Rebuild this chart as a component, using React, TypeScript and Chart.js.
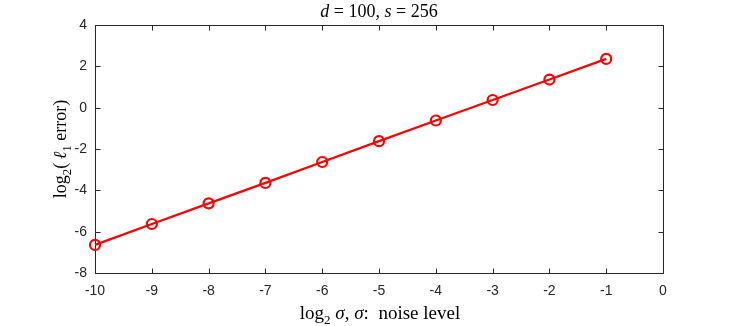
import React, { useEffect, useRef } from "react";
import { Chart, registerables } from "chart.js";
Chart.register(...registerables);

const xValues = [-10, -9, -8, -7, -6, -5, -4, -3, -2, -1];
const yValues = [-6.64, -5.63, -4.63, -3.64, -2.63, -1.62, -0.62, 0.37, 1.36, 2.36];
const xTickValues = [-10, -9, -8, -7, -6, -5, -4, -3, -2, -1, 0];
const yTickValues = [-8, -6, -4, -2, 0, 2, 4];

type Seg = { t: string; i?: boolean; sub?: boolean };
const titleSegs: Seg[] = [
  { t: "d", i: true }, { t: " = 100, " }, { t: "s", i: true }, { t: " = 256" },
];
const xLabelSegs: Seg[] = [
  { t: "log" }, { t: "2", sub: true }, { t: " " }, { t: "σ", i: true }, { t: ", " },
  { t: "σ", i: true }, { t: ":  noise level" },
];
const yLabelSegs: Seg[] = [
  { t: "log" }, { t: "2", sub: true }, { t: "(\u2009" }, { t: "ℓ", i: true }, { t: "1", sub: true },
  { t: " error)" },
];

const SERIF = "'Liberation Serif', 'DejaVu Serif', serif";
const AX = "#262626";

function drawRich(ctx: CanvasRenderingContext2D, segs: Seg[], cx: number, cy: number, size: number) {
  const fontOf = (s: Seg) =>
    `${s.i ? "italic " : ""}${s.sub ? Math.round(size * 0.7) : size}px ${SERIF}`;
  let total = 0;
  const widths = segs.map((s) => {
    ctx.font = fontOf(s);
    const w = ctx.measureText(s.t).width;
    total += w;
    return w;
  });
  let x = cx - total / 2;
  ctx.textBaseline = "alphabetic";
  ctx.textAlign = "left";
  segs.forEach((s, k) => {
    ctx.font = fontOf(s);
    ctx.fillText(s.t, x, cy + (s.sub ? size * 0.25 : 0));
    x += widths[k];
  });
}

const framePlugin = {
  id: "frame",
  beforeDatasetsDraw(chart: any) {
    const { ctx, chartArea: a, scales } = chart;
    ctx.save();
    ctx.strokeStyle = AX;
    ctx.lineWidth = 1;
    const L = Math.round(a.left) + 0.5, R = Math.round(a.right) + 0.5;
    const T = Math.round(a.top) + 0.5, B = Math.round(a.bottom) + 0.5;
    ctx.beginPath();
    ctx.rect(L, T, R - L, B - T);
    const tl = 5;
    xTickValues.forEach((v) => {
      const px = Math.round(scales.x.getPixelForValue(v)) + 0.5;
      ctx.moveTo(px, B); ctx.lineTo(px, B - tl);
      ctx.moveTo(px, T); ctx.lineTo(px, T + tl);
    });
    yTickValues.forEach((v) => {
      const py = Math.round(scales.y.getPixelForValue(v)) + 0.5;
      ctx.moveTo(L, py); ctx.lineTo(L + tl, py);
      ctx.moveTo(R, py); ctx.lineTo(R - tl, py);
    });
    ctx.stroke();
    ctx.restore();
  },
  afterDraw(chart: any) {
    const { ctx, chartArea: a } = chart;
    ctx.save();
    ctx.fillStyle = "#000";
    const cx = (a.left + a.right) / 2;
    drawRich(ctx, titleSegs, cx, 17, 18);
    drawRich(ctx, xLabelSegs, cx + 1, 319, 19);
    ctx.translate(66, (a.top + a.bottom) / 2);
    ctx.rotate(-Math.PI / 2);
    drawRich(ctx, yLabelSegs, 0, 0, 18);
    ctx.restore();
  },
};

export default function App() {
  const ref = useRef<HTMLCanvasElement>(null);
  useEffect(() => {
    if (!ref.current) return;
    const tickFont = { family: "'Liberation Sans', Arial, sans-serif", size: 14 };
    const chart = new Chart(ref.current, {
      type: "line",
      data: {
        datasets: [
          {
            data: xValues.map((x, k) => ({ x, y: yValues[k] })),
            borderColor: "#ff0000",
            borderWidth: 2.2,
            pointStyle: "circle",
            pointRadius: 5,
            pointBorderWidth: 2.2,
            pointBorderColor: "#ff0000",
            pointBackgroundColor: "rgba(0,0,0,0)",
            fill: false,
            tension: 0,
            clip: false as any,
          },
        ],
      },
      options: {
        animation: false,
        responsive: true,
        maintainAspectRatio: false,
        layout: { padding: { top: 25, right: 70, left: 0, bottom: 0 } },
        plugins: { legend: { display: false }, tooltip: { enabled: false }, title: { display: false } },
        scales: {
          x: {
            type: "linear",
            min: -10,
            max: 0,
            afterBuildTicks: (s: any) => { s.ticks = xTickValues.map((v) => ({ value: v })); },
            ticks: { color: AX, font: tickFont, padding: 10, maxRotation: 0, autoSkip: false, callback: (v: any) => String(v) },
            grid: { display: true, drawOnChartArea: false, drawTicks: false, tickLength: 0 },
            border: { display: false },
            afterFit: (s: any) => { s.height = 53; },
          },
          y: {
            type: "linear",
            min: -8,
            max: 4,
            afterBuildTicks: (s: any) => { s.ticks = yTickValues.map((v) => ({ value: v })); },
            ticks: { color: AX, font: tickFont, padding: 8, autoSkip: false, callback: (v: any) => String(v) },
            grid: { display: true, drawOnChartArea: false, drawTicks: false, tickLength: 0 },
            border: { display: false },
            afterFit: (s: any) => { s.width = 95; },
          },
        },
      },
      plugins: [framePlugin],
    });
    return () => chart.destroy();
  }, []);
  return (
    <div style={{ position: "absolute", left: 0, top: 0, width: 733, height: 326, background: "#fff" }}>
      <canvas ref={ref} />
    </div>
  );
}
